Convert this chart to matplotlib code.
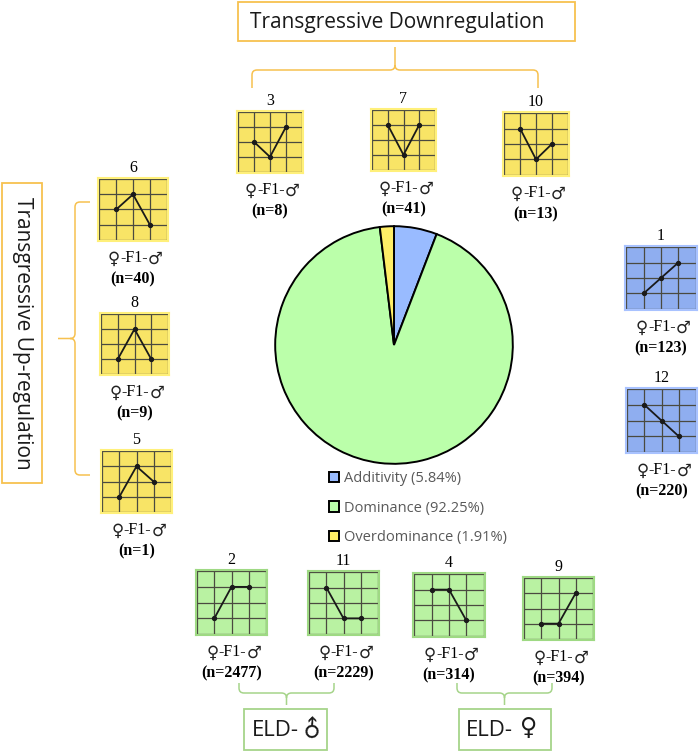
import numpy as np
import matplotlib
matplotlib.use("Agg")
import matplotlib.pyplot as plt
from matplotlib.patches import Rectangle, PathPatch
from matplotlib.path import Path

# pie data
categories = ["Additivity", "Dominance", "Overdominance"]
shares = [5.84, 92.25, 1.91]
pie_colors = ["#99BBFF", "#BBFFAA", "#FFEE66"]

# expression profiles: level of female parent, F1, male parent (1=low..3=high)
profile_ids = [3, 7, 10, 6, 8, 5, 1, 12, 2, 11, 4, 9]
profile_levels = [[2, 1, 3], [3, 1, 3], [3, 1, 2],
                  [2, 3, 1], [1, 3, 1], [1, 3, 2],
                  [1, 2, 3], [3, 2, 1],
                  [1, 3, 3], [3, 1, 1], [3, 3, 1], [1, 1, 3]]
profile_counts = [8, 41, 13, 40, 9, 1, 123, 220, 2477, 2229, 314, 394]
profile_class = ["over"] * 6 + ["add"] * 2 + ["dom"] * 4

# layout: left, top, width, height in pixels of each small panel
panel_boxes = [(237, 111, 66, 62), (371, 109, 65, 62), (503, 112, 66, 64),
               (98, 178, 70, 63), (100, 313, 69, 62), (101, 450, 71, 63),
               (625, 246, 72, 64), (626, 388, 71, 65),
               (196, 570, 71, 65), (308, 571, 71, 64), (413, 573, 72, 64), (523, 577, 71, 63)]

box_style = {"over": ("#F8E466", "#FFF07A"),
             "add": ("#8FAEF0", "#A8C2FF"),
             "dom": ("#B9F2A2", "#9ED983")}

W, H = 700, 753
ORANGE = "#F7C14F"
GREEN = "#A6D48A"
serif = ["Liberation Serif", "DejaVu Serif"]
sans = ["Open Sans", "DejaVu Sans"]

fig = plt.figure(figsize=(W / 100, H / 100), dpi=100)
ax = fig.add_axes([0, 0, 1, 1])
ax.set_xlim(0, W)
ax.set_ylim(H, 0)
ax.axis("off")


def brace(ax, a0, a1, c, tip, end, color, vertical=False, r=5):
    # curly bracket from a0 to a1 at level c, ends pointing to `end`, tip to `tip`
    m = (a0 + a1) / 2
    se = np.sign(end - c)
    st = np.sign(tip - c)
    pts = [(a0, end), (a0, c + se * r), (a0, c), (a0 + r, c),
           (m - r, c), (m, c), (m, c + st * r), (m, tip),
           (m, c + st * r), (m, c), (m + r, c),
           (a1 - r, c), (a1, c), (a1, c + se * r), (a1, end)]
    codes = [Path.MOVETO, Path.LINETO, Path.CURVE3, Path.CURVE3,
             Path.LINETO, Path.CURVE3, Path.CURVE3, Path.LINETO,
             Path.MOVETO, Path.CURVE3, Path.CURVE3,
             Path.LINETO, Path.CURVE3, Path.CURVE3, Path.LINETO]
    if vertical:
        pts = [(y, x) for x, y in pts]
    ax.add_patch(PathPatch(Path(pts, codes), fill=False, ec=color, lw=1.1))


# pie chart
cx, cy, rad = 394, 345, 120
pax = fig.add_axes([(cx - rad) / W, 1 - (cy + rad) / H, 2 * rad / W, 2 * rad / H])
wedges, _ = pax.pie(shares, colors=pie_colors, startangle=90, counterclock=False,
                    wedgeprops={"edgecolor": "black", "linewidth": 1.4})
pax.set_xlim(-1.01, 1.01)
pax.set_ylim(-1.01, 1.01)
leg = pax.legend(wedges, [f"{c} ({s:.2f}%)" for c, s in zip(categories, shares)],
                 loc="upper left", bbox_to_anchor=(329 / W, 1 - 471 / H),
                 bbox_transform=fig.transFigure, frameon=False,
                 labelcolor="#595959", handlelength=0.7, handleheight=0.7,
                 handletextpad=0.35, labelspacing=1.0, borderpad=0, borderaxespad=0,
                 prop={"family": sans, "size": 10.5})

# small profile panels
for pid, lev, n, cls, (x0, y0, w, h) in zip(profile_ids, profile_levels, profile_counts,
                                            profile_class, panel_boxes):
    fill, edge = box_style[cls]
    iax = fig.add_axes([x0 / W, 1 - (y0 + h) / H, w / W, h / H])
    iax.set_xlim(-0.08, 4.08)
    iax.set_ylim(-0.08, 4.08)
    iax.set_facecolor(fill)
    for s in iax.spines.values():
        s.set_color(edge)
        s.set_linewidth(1.5)
    iax.set_xticks([])
    iax.set_yticks([])
    for k in range(5):
        iax.plot([k, k], [0, 4], color="#4a4a40", lw=0.9)
        iax.plot([0, 4], [k, k], color="#4a4a40", lw=0.9)
    iax.plot([1, 2, 3], lev, "-o", color="#1a1a1a", lw=1.3, ms=2.8)

    xc = x0 + w / 2
    ax.text(xc, y0 - 2, str(pid), ha="center", va="bottom", fontsize=11.5, family=serif)
    mid = ax.text(xc + 1, y0 + h + 17, "-F1-", ha="center", va="center",
                  fontsize=11.5, family=serif)
    ax.annotate("♀", xy=(0, 0.45), xycoords=mid, ha="right", va="center",
                fontsize=12, family="DejaVu Sans", color="#222222")
    ax.annotate("♂", xy=(1, 0.45), xycoords=mid, ha="left", va="center",
                fontsize=12, family="DejaVu Sans", color="#222222")
    ax.text(xc, y0 + h + 38, f"(n={n})", ha="center", va="center", fontsize=11.5,
            family=serif, fontweight="bold")

# group labels and brackets
ax.add_patch(Rectangle((238, 2), 337, 39, fill=False, ec=ORANGE, lw=1.3))
ax.text(397, 22, "Transgressive Downregulation", ha="center", va="center",
        fontsize=15, family=sans, color="#1a1a1a")
brace(ax, 252, 538, 70, 47, 88, ORANGE)

ax.add_patch(Rectangle((2, 183), 40, 300, fill=False, ec=ORANGE, lw=1.3))
ax.text(22, 333, "Transgressive Up-regulation", ha="center", va="center",
        rotation=-90, fontsize=15, family=sans, color="#1a1a1a")
brace(ax, 202, 475, 75, 58, 90, ORANGE, vertical=True)

brace(ax, 239, 334, 693, 705, 683, GREEN)
ax.add_patch(Rectangle((244, 709), 83, 41, fill=False, ec=GREEN, lw=1.3))
ax.text(299, 730, "ELD-", ha="right", va="center", fontsize=16, family=sans, color="#1a1a1a")
ax.text(313, 729, "♂", ha="center", va="center", fontsize=17, family=sans,
        rotation=45, color="#1a1a1a")

brace(ax, 457, 552, 693, 705, 683, GREEN)
ax.add_patch(Rectangle((459, 709), 92, 41, fill=False, ec=GREEN, lw=1.3))
ax.text(513, 730, "ELD-", ha="right", va="center", fontsize=16, family=sans, color="#1a1a1a")
ax.text(529, 729, "♀", ha="center", va="center", fontsize=17, family=sans, color="#1a1a1a")

fig.savefig("out.png", dpi=100)
